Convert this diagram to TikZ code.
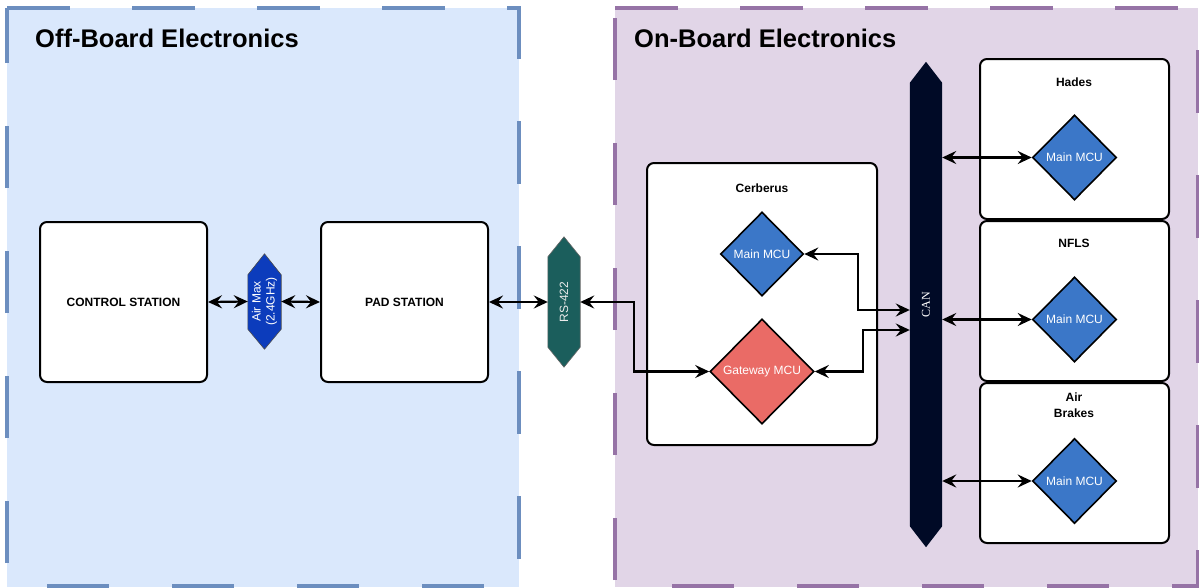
\documentclass[tikz,border=0pt]{standalone}
\usepackage{fontspec}
\setmainfont{Liberation Sans}
\newfontfamily\canfont{Liberation Serif}
\usetikzlibrary{arrows.meta,calc,shapes.geometric}

\definecolor{offfill}{HTML}{DAE8FC}
\definecolor{offline}{HTML}{6C8EBF}
\definecolor{onfill}{HTML}{E1D5E7}
\definecolor{online}{HTML}{9673A6}
\definecolor{mcublue}{HTML}{3B77C8}
\definecolor{gwred}{HTML}{EA6B66}
\definecolor{airblue}{HTML}{0C3CBC}
\definecolor{rsteal}{HTML}{1B5E5C}
\definecolor{canbus}{HTML}{000A26}

\begin{document}
\begin{tikzpicture}[x=1pt,y=-1pt,
  region/.style={line width=4pt,dash pattern=on 62.5pt off 62.5pt},
  title/.style={font=\fontsize{25.5}{30}\selectfont\bfseries,anchor=base west,inner sep=0},
  box/.style={draw=black,line width=2pt,rounded corners=7pt,fill=white,
    font=\fontsize{12}{14}\selectfont\bfseries,inner sep=0},
  boxtitle/.style={font=\fontsize{12}{16}\selectfont\bfseries,align=center,inner sep=0},
  mcu/.style={diamond,draw=black,line width=1.6pt,inner sep=0,text=white,
    font=\fontsize{12}{14}\selectfont},
  tip/.tip={Stealth[length=14pt,width=13pt,inset=5pt]},
  link/.style={line width=2.2pt,tip-tip}
]
\useasboundingbox (0,0) rectangle (1199,587);

% ---- regions ----
\fill[offfill] (7,8) rectangle (519,587);
\draw[region,draw=offline] (7,8) -- (519,8) -- (519,586) -- (7,586) -- cycle;
\fill[onfill] (615,8) rectangle (1198,587);
\draw[region,draw=online] (615,8) -- (1198,8) -- (1198,586) -- (615,586) -- cycle;

\node[title] (offtitle) at (35,47) {Off-Board Electronics};
\node[title] (ontitle) at (634,47) {On-Board Electronics};

% ---- off-board stations ----
\node[box,minimum width=167pt,minimum height=160pt] (ctrl) at (123.5,302) {CONTROL STATION};
\node[box,minimum width=167pt,minimum height=160pt] (pad) at (404.5,302) {PAD STATION};

% ---- radio link hexagon ----
\node[inner sep=0,minimum width=33pt,minimum height=95pt] (airmax) at (264.5,301.5) {};
\filldraw[fill=airblue,draw=black!70,line width=0.6pt]
  (airmax.north) -- ($(airmax.north east)+(0,21)$) -- ($(airmax.south east)+(0,-20)$)
  -- (airmax.south) -- ($(airmax.south west)+(0,-20)$) -- ($(airmax.north west)+(0,21)$) -- cycle;
\node[rotate=90,text=white,align=center,inner sep=0,font=\fontsize{12}{14}\selectfont] (airmaxtext) at (airmax) {Air Max\\(2.4GHz)};

% ---- serial link hexagon ----
\node[inner sep=0,minimum width=32pt,minimum height=130pt] (rs) at (564,302) {};
\filldraw[fill=rsteal,draw=black!60,line width=0.6pt]
  (rs.north) -- ($(rs.north east)+(0,20)$) -- ($(rs.south east)+(0,-20)$)
  -- (rs.south) -- ($(rs.south west)+(0,-20)$) -- ($(rs.north west)+(0,20)$) -- cycle;
\node[rotate=90,text=black!8,inner sep=0,font=\fontsize{12}{14}\selectfont] (rstext) at (rs) {RS-422};

% ---- Cerberus ----
\node[box,minimum width=230pt,minimum height=282pt] (cerb) at (762,304) {};
\node[boxtitle] (cerbtitle) at (762,188) {Cerberus};
\node[mcu,fill=mcublue,minimum width=83pt,minimum height=84pt] (cmain) at (762,254) {Main MCU};
\node[mcu,fill=gwred,minimum width=104pt,minimum height=105pt] (gw) at (762,371.5) {Gateway MCU};

% ---- CAN bus ----
\node[inner sep=0,minimum width=32pt,minimum height=485pt] (can) at (926,304.5) {};
\fill[canbus]
  (can.north) -- ($(can.north east)+(0,21)$) -- ($(can.south east)+(0,-21)$)
  -- (can.south) -- ($(can.south west)+(0,-21)$) -- ($(can.north west)+(0,21)$) -- cycle;
\node[rotate=90,text=white,inner sep=0,font=\canfont\fontsize{12}{14}\selectfont] (cantext) at (can) {CAN};

% ---- subsystem boards ----
\node[box,minimum width=189pt,minimum height=160pt] (hades) at (1074.5,139) {};
\node[boxtitle] (hadestitle) at (1074,82) {Hades};
\node[mcu,fill=mcublue,minimum width=84pt,minimum height=85pt] (hmain) at (1074.5,157.5) {Main MCU};

\node[box,minimum width=189pt,minimum height=160pt] (nfls) at (1074.5,301) {};
\node[boxtitle] (nflstitle) at (1074,243) {NFLS};
\node[mcu,fill=mcublue,minimum width=84pt,minimum height=85pt] (nmain) at (1074.5,319.5) {Main MCU};

\node[box,minimum width=189pt,minimum height=160pt] (brakes) at (1074.5,463) {};
\node[boxtitle] (brakestitle) at (1074,405) {Air\\Brakes};
\node[mcu,fill=mcublue,minimum width=84pt,minimum height=85pt] (bmain) at (1074.5,481) {Main MCU};

% ---- connections ----
\draw[link] (ctrl.east) -- (airmax.west);
\draw[link] (airmax.east) -- (pad.west);
\draw[link] (pad.east) -- (rs.west);
\draw[link] (rs.east) -- ++(54,0) |- (gw.west);
\draw[link] (cmain.east) -- ++(54,0) |- ($(can.west)+(0,5.5)$);
\draw[link] (gw.east) -- ++(48,0) |- ($(can.west)+(0,25.5)$);
\draw[link] (can.east |- hmain.west) -- (hmain.west);
\draw[link] (can.east |- nmain.west) -- (nmain.west);
\draw[link] (can.east |- bmain.west) -- (bmain.west);
\end{tikzpicture}
\end{document}
